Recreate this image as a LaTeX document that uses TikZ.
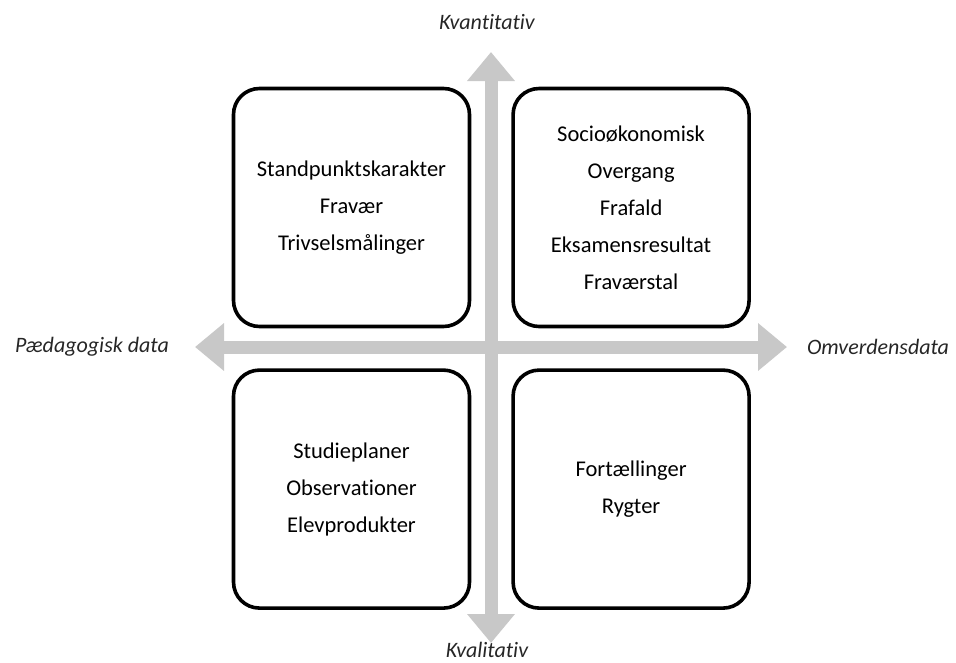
\documentclass[tikz,border=0pt]{standalone}
\usepackage{fontspec}
\setmainfont{Carlito}[Ligatures=NoCommon]
\usepackage{tikz}
\usetikzlibrary{positioning, arrows.meta}
\definecolor{axisgray}{RGB}{200,200,200}
\tikzset{%
  x=1pt, y=-1pt,
  node distance=40pt, % gap between the four boxes
  quadrant/.style={draw, line width=3.6pt, rounded corners=26pt,
    minimum width=236pt, minimum height=238pt, align=center,
    font=\fontsize{22.5}{37}\selectfont},
  axislabel/.style={font=\fontsize{22}{26}\itshape\selectfont, text=black!85},
  axis/.style={draw=axisgray, line width=13pt,
    {Triangle[width=46pt,length=29pt]}-{Triangle[width=46pt,length=29pt]}}
}
\begin{document}
\begin{tikzpicture}
\useasboundingbox (0,0) rectangle (956,662);

\node[quadrant] (tl) at (351.5,207.5) {Standpunktskarakter\\Fravær\\Trivselsmålinger};
\node[quadrant, right=of tl] (tr) {Socioøkonomisk\\Overgang\\Frafald\\Eksamensresultat\\Fraværstal};
\node[quadrant, below=of tl] (bl) {Studieplaner\\Observationer\\Elevprodukter};
\node[quadrant, right=of bl] (br) {Fortællinger\\Rygter};

\coordinate (top) at (491,52);
\coordinate (bottom) at (491,643);
\coordinate (left) at (195,347);
\coordinate (right) at (787,347);
\draw[axis] (bottom) -- (top);
\draw[axis] (left) -- (right);

\node[axislabel] (kvan) at (487,22) {Kvantitativ};
\node[axislabel] (kval) at (487,650) {Kvalitativ};
\node[axislabel] (paed) at (92,347) {Pædagogisk data};
\node[axislabel] (omv) at (878,347) {Omverdensdata};

\end{tikzpicture}
\end{document}
